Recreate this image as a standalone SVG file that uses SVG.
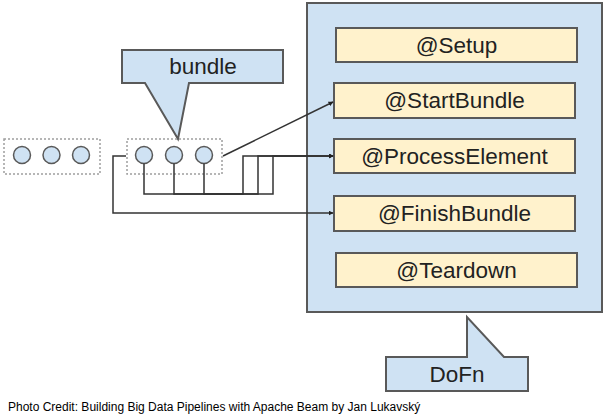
<svg xmlns="http://www.w3.org/2000/svg" width="607" height="418" viewBox="0 0 607 418">
<style>
.blue{fill:#cfe2f3;stroke:#595959;stroke-width:2}
.yel{fill:#fff2cc;stroke:#595959;stroke-width:2}
.dot{fill:none;stroke:#9e9e9e;stroke-width:1.5;stroke-dasharray:2 2}
.c{fill:#cfe2f3;stroke:#595959;stroke-width:1.5}
.t{font-family:"Liberation Sans",Arial,sans-serif;font-size:22.5px;fill:#222;text-anchor:middle}
.cap{font-family:"Liberation Sans",Arial,sans-serif;font-size:12px;fill:#000}
.ln{fill:none;stroke:#333;stroke-width:1.5}
</style>
<defs>
<marker id="ah" viewBox="0 0 10 10" refX="9" refY="5" markerWidth="5" markerHeight="5" orient="auto" markerUnits="userSpaceOnUse">
<path d="M0,0L10,5L0,10z" fill="#222"/>
</marker>
</defs>
<rect width="607" height="418" fill="#fff"/>
<g id="dofn">
<rect class="blue" x="307" y="3" width="295" height="309"/>
</g>
<g id="setup"><rect class="yel" x="336" y="28" width="241" height="34"/><text class="t" x="456.5" y="53">@Setup</text></g>
<g id="startbundle"><rect class="yel" x="334" y="83" width="241" height="35"/><text class="t" x="454.5" y="108">@StartBundle</text></g>
<g id="processelement"><rect class="yel" x="334" y="139" width="241" height="34"/><text class="t" x="454.5" y="164">@ProcessElement</text></g>
<g id="finishbundle"><rect class="yel" x="334" y="196" width="241" height="35"/><text class="t" x="454.5" y="221">@FinishBundle</text></g>
<g id="teardown"><rect class="yel" x="336" y="253" width="241" height="34"/><text class="t" x="456.5" y="278">@Teardown</text></g>
<g id="dofn-label">
<path class="blue" d="M386,357H467V317L504,357H528V391H386Z"/>
<text class="t" x="457" y="382">DoFn</text>
</g>
<g id="bundle-label">
<path class="blue" d="M122,50H283V83H189L178,139L145,83H122Z"/>
<text class="t" x="203" y="74">bundle</text>
</g>
<g id="prev-elements">
<rect class="dot" x="4" y="139" width="96" height="35"/>
<circle class="c" cx="22" cy="155" r="8.5"/>
<circle class="c" cx="51.5" cy="155" r="8.5"/>
<circle class="c" cx="81" cy="155" r="8.5"/>
</g>
<g id="bundle-elements">
<rect class="dot" x="127" y="139" width="95" height="35"/>
<circle class="c" cx="144" cy="155" r="8.5"/>
<circle class="c" cx="174" cy="155" r="8.5"/>
<circle class="c" cx="204" cy="155" r="8.5"/>
</g>
<g id="connectors">
<path class="ln" d="M223,156L333,102" marker-end="url(#ah)"/>
<path class="ln" d="M144,163.5V194H243V156H333" marker-end="url(#ah)"/>
<path class="ln" d="M174,163.5V194H258V156H333" marker-end="url(#ah)"/>
<path class="ln" d="M204,163.5V194H273V156H333" marker-end="url(#ah)"/>
<path class="ln" d="M126,156H113V213H333" marker-end="url(#ah)"/>
</g>
<text class="cap" x="8" y="411">Photo Credit: Building Big Data Pipelines with Apache Beam by Jan Lukavský</text>
</svg>
